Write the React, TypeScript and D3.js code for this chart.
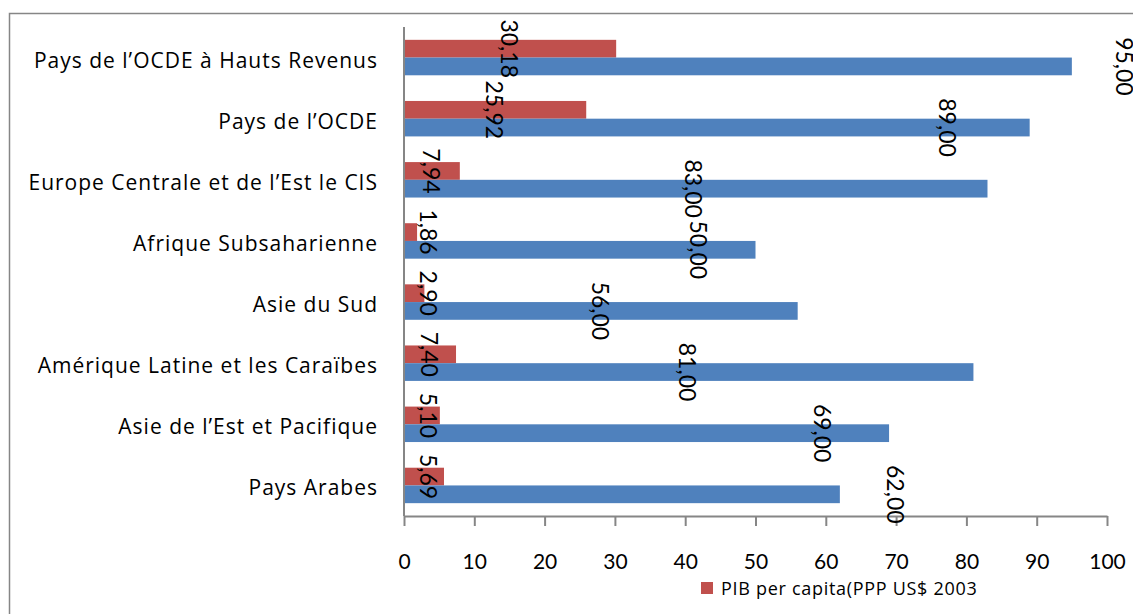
import { useEffect, useRef } from 'react'
import * as d3 from 'd3'

const regions = [
  'Pays de l\u2019OCDE à Hauts Revenus',
  'Pays de l\u2019OCDE',
  'Europe Centrale et de l\u2019Est le CIS',
  'Afrique Subsaharienne',
  'Asie du Sud',
  'Amérique Latine et les Caraïbes ',
  'Asie de l\u2019Est et Pacifique',
  'Pays Arabes',
]
const pib = [30.18, 25.92, 7.94, 1.86, 2.9, 7.4, 5.1, 5.69]
const other = [95, 89, 83, 50, 56, 81, 69, 62]
// where the blue labels sit, in axis units (moved by hand in the original)
const otherLabelAt = [102.6, 77.4, 41.2, 42, 28, 40.4, 59.6, 70]
const xTicks = [0, 10, 20, 30, 40, 50, 60, 70, 80, 90, 100]
const legendLabel = 'PIB per capita(PPP US$ 2003'

const RED = '#C0504D'
const BLUE = '#4F81BD'
const GREY = '#868686'
const FONT = 'Lato, "Open Sans", sans-serif'
const FONT_WIDE = '"Open Sans", Lato, sans-serif'

export default function App() {
  const ref = useRef<SVGSVGElement>(null)

  useEffect(() => {
    const el = ref.current
    if (!el) return
    const W = 1133
    const H = 614
    const svg = d3.select(el)
    svg.selectAll('*').remove()
    svg.attr('width', W).attr('height', H).attr('viewBox', `0 0 ${W} ${H}`)

    // Frame (runs off the right and bottom of the picture)
    svg.append('rect').attr('x', 9.5).attr('y', 13.5).attr('width', 1300).attr('height', 800)
      .attr('fill', '#fff').attr('stroke', GREY).attr('stroke-width', 1.5)

    const left = 404, right = 1107, top = 27, bottom = 516
    const x = d3.scaleLinear().domain([0, 100]).range([left, right])
    const y = d3.scaleBand().domain(regions).range([top, bottom]).paddingInner(0.42).paddingOuter(0.21)
    const sub = d3.scaleBand().domain(['pib', 'other']).range([0, y.bandwidth()])

    const g = svg.append('g')

    // Bars
    g.selectAll('rect.pib').data(regions).join('rect')
      .attr('x', x(0)).attr('y', d => y(d)! + sub('pib')!)
      .attr('width', (_, i) => x(pib[i]) - x(0)).attr('height', sub.bandwidth())
      .attr('fill', RED)
    g.selectAll('rect.other').data(regions).join('rect')
      .attr('x', x(0)).attr('y', d => y(d)! + sub('other')!)
      .attr('width', (_, i) => x(other[i]) - x(0)).attr('height', sub.bandwidth())
      .attr('fill', BLUE)

    // X axis
    const xa = g.append('g').attr('transform', `translate(0,${bottom})`)
      .call(d3.axisBottom(x).tickValues(xTicks).tickSize(10).tickSizeOuter(0).tickPadding(28))
    xa.select('.domain').attr('stroke', GREY).attr('stroke-width', 2)
    xa.selectAll('.tick line').attr('stroke', GREY).attr('stroke-width', 2)
    xa.selectAll('.tick text').attr('font-family', FONT).attr('font-size', 21).attr('fill', '#000')

    // Y axis line
    g.append('line').attr('x1', left).attr('x2', left).attr('y1', top).attr('y2', bottom)
      .attr('stroke', GREY).attr('stroke-width', 2)

    // Category labels
    g.selectAll('text.cat').data(regions).join('text')
      .attr('x', 378).attr('y', d => y(d)! + y.bandwidth() / 2 + 2)
      .attr('text-anchor', 'end').attr('dominant-baseline', 'central')
      .attr('font-family', FONT_WIDE).attr('font-size', 21).attr('letter-spacing', 1)
      .attr('fill', '#000')
      .text(d => d)

    const fmt = (v: number) => v.toFixed(2).replace('.', ',')

    // Data labels, rotated
    const minX = x(0) + 25
    g.selectAll('text.pibl').data(regions).join('text')
      .attr('transform', (d, i) => {
        const cx = Math.max(x(pib[i] / 2), minX)
        const cy = y(d)! + sub('pib')! + sub.bandwidth() / 2
        return `translate(${cx},${cy}) rotate(90)`
      })
      .attr('text-anchor', 'middle').attr('dominant-baseline', 'central')
      .attr('font-family', FONT).attr('font-size', 23).attr('fill', '#000')
      .text((_, i) => fmt(pib[i]))
    g.selectAll('text.otherl').data(regions).join('text')
      .attr('transform', (d, i) => {
        const cx = x(otherLabelAt[i])
        const cy = y(d)! + sub('other')! + sub.bandwidth() / 2
        return `translate(${cx},${cy}) rotate(90)`
      })
      .attr('text-anchor', 'middle').attr('dominant-baseline', 'central')
      .attr('font-family', FONT).attr('font-size', 23).attr('fill', '#000')
      .text((_, i) => fmt(other[i]))

    // Legend
    const lg = svg.append('g').attr('transform', 'translate(701,582)')
    lg.append('rect').attr('width', 12).attr('height', 12).attr('fill', RED)
    lg.append('text').attr('x', 20).attr('y', 6).attr('dominant-baseline', 'central')
      .attr('font-family', FONT_WIDE).attr('font-size', 18).attr('letter-spacing', 0.7)
      .attr('fill', '#000')
      .text(legendLabel)
  }, [])

  return <svg ref={ref} style={{ position: 'absolute', left: 0, top: 0, display: 'block' }} />
}
